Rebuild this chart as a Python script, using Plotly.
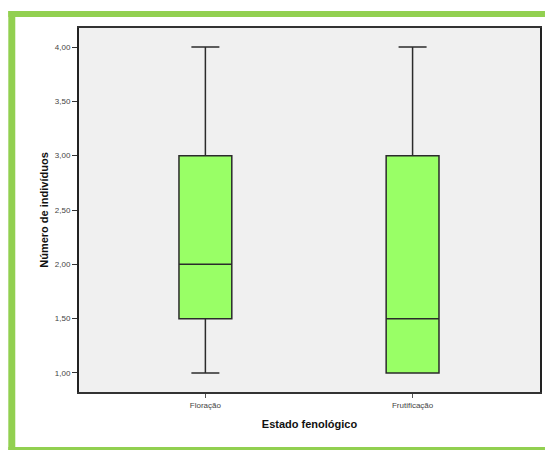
import plotly.graph_objects as go

# Phenological stage summary (count of individuals)
categories = ["Floração", "Frutificação"]
minimum = [1.0, 1.0]
q1 = [1.5, 1.0]
median = [2.0, 1.5]
q3 = [3.0, 3.0]
maximum = [4.0, 4.0]

y_ticks = [1.0, 1.5, 2.0, 2.5, 3.0, 3.5, 4.0]

W, H = 547, 450
L, R, T, B = 79, 5, 28, 58
pw, ph = W - L - R, H - T - B


def px_x(x):
    return (x - L) / pw


def px_y(y):
    return (H - B - y) / ph


fig = go.Figure()
fig.add_trace(go.Box(
    x=[0, 1],
    q1=q1,
    median=median,
    q3=q3,
    lowerfence=minimum,
    upperfence=maximum,
    fillcolor="#99FF66",
    line=dict(color="#2b2b2b", width=1.5),
    width=0.255,
    whiskerwidth=0.53,
    boxpoints=False,
    hoverinfo="skip",
    showlegend=False,
))

green = "#92D050"
frame = [
    (8, 11, 547, 17),
    (8, 11, 15, 450),
    (8, 447, 547, 450),
]
shapes = []
for x0, y0, x1, y1 in frame:
    shapes.append(dict(
        type="rect", xref="paper", yref="paper",
        x0=px_x(x0), x1=px_x(x1), y0=px_y(y1), y1=px_y(y0),
        fillcolor=green, line=dict(width=0), layer="below",
    ))

fig.update_layout(
    width=W, height=H,
    margin=dict(l=L, r=R, t=T, b=B),
    paper_bgcolor="white",
    plot_bgcolor="#F0F0F0",
    separators=",.",
    font=dict(family="Liberation Sans, Arial, sans-serif", color="#333"),
    shapes=shapes,
    xaxis=dict(
        range=[-0.61, 1.615],
        tickmode="array", tickvals=[0, 1], ticktext=categories,
        ticks="outside", ticklen=4, tickwidth=1, tickcolor="#555",
        tickfont=dict(size=8, color="#444"),
        showline=True, linecolor="#333", linewidth=2, mirror=True,
        showgrid=False, zeroline=False,
        title=dict(text="<b>Estado fenológico</b>", font=dict(size=11, color="#111"), standoff=12),
    ),
    yaxis=dict(
        range=[0.825, 4.175],
        tickmode="array", tickvals=y_ticks, tickformat=".2f",
        ticks="outside", ticklen=5, tickwidth=1, tickcolor="#333",
        tickfont=dict(size=8, color="#444"),
        showline=True, linecolor="#222", linewidth=2, mirror=True,
        showgrid=False, zeroline=False,
        title=dict(text="<b>Número de indivíduos</b>", font=dict(size=11, color="#111"), standoff=4),
    ),
)

fig.write_html("out.html")
